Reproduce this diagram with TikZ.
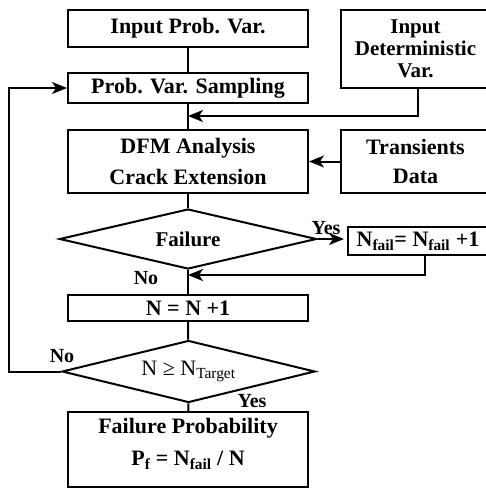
\documentclass[tikz,border=0pt]{standalone}
\usepackage{fontspec}
\setmainfont{Liberation Serif}
\usetikzlibrary{arrows.meta,shapes.geometric}
\begin{document}
\begin{tikzpicture}[x=1pt,y=-1pt,
  line width=2pt,
  every node/.style={font=\fontsize{22}{26}\selectfont\bfseries, inner sep=0pt},
  box/.style={draw, rectangle, align=center},
  dec/.style={draw, diamond, shape aspect=4},
  arr/.style={-{Stealth[length=15pt,width=12pt,inset=4pt]}},
  lbl/.style={font=\fontsize{20}{22}\selectfont\bfseries}
]
\useasboundingbox (0,0) rectangle (486,488);
\clip (0,0) rectangle (486,488);
% boxes
\node[box, minimum width=240, minimum height=37] (ipv) at (188,28.5) {Input Prob. Var.};
\node[box, minimum width=149, minimum height=78, font=\fontsize{21}{22}\selectfont\bfseries] (idv) at (415.5,49) {Input\\Deterministic\\Var.};
\node[box, minimum width=240, minimum height=30] (pvs) at (188,88) {Prob. Var. Sampling};
\node[box, minimum width=240, minimum height=63, font=\fontsize{22}{31}\selectfont\bfseries] (dfm) at (188,161.5) {DFM Analysis\\Crack Extension};
\node[box, minimum width=149, minimum height=63, font=\fontsize{22}{29}\selectfont\bfseries] (td) at (415.5,161.5) {Transients\\Data};
\node[dec, minimum width=257, minimum height=60, font=\fontsize{21}{24}\selectfont\bfseries] (fail) at (188,239) {Failure};
\node[box, minimum width=140, minimum height=28] (nfail) at (418,241) {N\textsubscript{fail}= N\textsubscript{fail} +1};
\node[box, minimum width=240, minimum height=26] (nn) at (188,308) {N = N +1};
\node[dec, minimum width=253, minimum height=62, font=\fontsize{22}{24}\selectfont] (target) at (188.5,371.5) {N ≥ N\textsubscript{Target}};
\node[box, minimum width=240, minimum height=75] (fp) at (188,449.5) {};
\node (fp1) at (188,428) {Failure Probability};
\node (fp2) at (188,460) {P\textsubscript{f} = N\textsubscript{fail} / N};
% coordinates
\coordinate (lp) at (9,371.5);
\coordinate (j1) at (188,116);
\coordinate (j2) at (188,275);
% connectors
\draw (ipv) -- (pvs);
\draw[arr] (target.west) -- (lp) |- (pvs.west);
\draw[arr] ([xshift=2.5]idv.south) |- (j1);
\draw (pvs) -- (dfm);
\draw[arr] (td.west) -- (dfm.east);
\draw (dfm) -- (fail);
\draw[arr, shorten >=3pt] (fail.east) -- (fail.east -| nfail.west);
\draw[arr] ([xshift=7]nfail.south) |- (j2);
\draw (fail.south) -- (nn.north);
\draw (nn) -- (target);
\draw (target) -- (fp);
% labels
\node[lbl] (yes1) at (326,228) {Yes};
\node[lbl] (no1) at (146,278) {No};
\node[lbl] (no2) at (62,356) {No};
\node[lbl] (yes2) at (252,401) {Yes};
\end{tikzpicture}
\end{document}
